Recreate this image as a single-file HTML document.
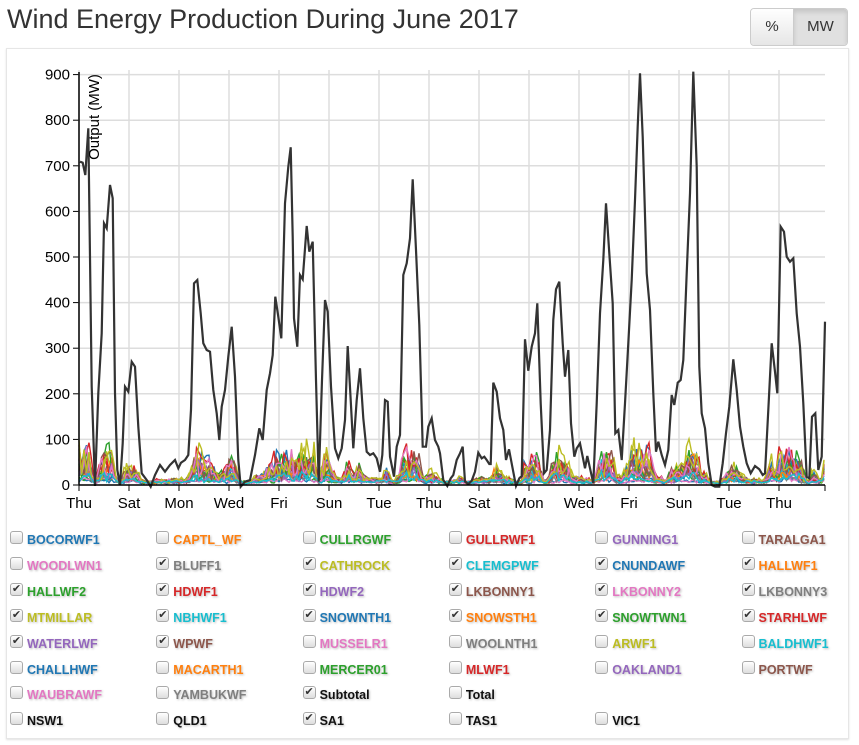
<!DOCTYPE html>
<html><head><meta charset="utf-8"><style>
body{margin:0;width:859px;height:745px;background:#fff;font-family:"Liberation Sans",Arial,sans-serif;position:relative;overflow:hidden}
h1{position:absolute;left:7px;top:4px;margin:0;font-size:27px;font-weight:normal;color:#333}
.btns{position:absolute;left:750px;top:8px;height:36px;border:1px solid #ccc;border-radius:4px;display:flex;overflow:hidden}
.btns div{font-size:15px;color:#333;line-height:36px;text-align:center}
.card{position:absolute;left:6px;top:48px;width:841px;height:689px;border:1px solid #e6e6e6;box-shadow:0 1px 2px rgba(0,0,0,.12)}
.lg{position:absolute;font-size:12.5px;font-weight:bold;text-shadow:1px 1px 2px rgba(0,0,0,.25);white-space:nowrap}
.cb{position:absolute;width:11px;height:11px;border:1px solid #aaa;border-radius:3px;background:linear-gradient(#fff,#ddd);font-size:11px;line-height:11px;text-align:center;color:#333}
</style></head><body>
<h1>Wind Energy Production During June 2017</h1>
<div class="btns"><div style="width:42px;background:linear-gradient(#fff,#e6e6e6);border-right:1px solid #ccc">%</div><div style="width:53px;background:#e0e0e0;box-shadow:inset 0 3px 5px rgba(0,0,0,.12)">MW</div></div>
<div class="card"></div>
<svg id="s" width="859" height="745" style="position:absolute;left:0;top:0" font-family="Liberation Sans, Arial, sans-serif"></svg>
<div id="leg"></div>
<script>
var s=document.getElementById('s'),h='';
var X0=79,X1=825,Y0=485,k=0.456;
for(var v=0;v<=900;v+=100){var y=Y0-v*k;h+='<line x1="'+X0+'" x2="'+X1+'" y1="'+y+'" y2="'+y+'" stroke="#ddd" stroke-width="1.5"/>';
h+='<line x1="73" x2="'+X0+'" y1="'+y+'" y2="'+y+'" stroke="#000"/>';
h+='<text x="70" y="'+(y+5)+'" text-anchor="end" font-size="15">'+v+'</text>';}
var days=['Thu','Sat','Mon','Wed','Fri','Sun','Tue','Thu','Sat','Mon','Wed','Fri','Sun','Tue','Thu'];
for(var i=0;i<15;i++){var x=X0+i*50;h+='<line x1="'+x+'" x2="'+x+'" y1="70" y2="'+Y0+'" stroke="#ddd" stroke-width="1.5"/>';
h+='<line x1="'+x+'" x2="'+x+'" y1="'+Y0+'" y2="'+(Y0+6)+'" stroke="#000"/>';
h+='<text x="'+x+'" y="508" text-anchor="middle" font-size="15">'+days[i]+'</text>';}
h+='<line x1="825" x2="825" y1="'+Y0+'" y2="491" stroke="#000"/>';
var a=[30,305,38,308,46,345,55,205,65,980,75,1278,85,1000,95,820,102,490,110,505,120,375,128,415,135,1000,142,1230,150,1275,158,1150,165,980,175,995,185,905,195,920,205,1100,215,1240,230,1260,242,1280,255,1245,270,1215,285,1235,300,1215,315,1200,325,1225,333,1208,345,1200,355,1185,363,1050,372,670,382,660,392,760,400,850,410,870,420,875,430,990,440,1060,448,1140,455,1040,465,990,475,890,485,800,495,950,505,1200,512,1280,525,1265,540,1260,555,1185,568,1105,578,1140,590,990,600,940,608,885,616,710,625,770,634,835,645,430,655,320,662,262,668,530,672,775,682,860,690,645,698,658,710,498,718,575,728,545,738,960,746,1265,756,960,765,720,773,755,783,980,795,1165,805,1195,815,1165,825,1080,833,858,842,1020,850,1165,860,1020,870,925,880,1075,890,1175,900,1185,910,1180,920,1195,930,1235,937,1185,945,1020,953,1025,960,1190,972,1250,980,1160,990,1125,1000,645,1010,610,1020,535,1028,358,1038,570,1048,795,1058,1160,1068,1160,1075,1100,1085,1075,1095,1140,1105,1160];
var b=[0,1180,10,1260,22,1278,32,1255,40,1245,50,1200,60,1180,68,1160,75,1265,85,1272,95,1262,105,1235,115,1178,125,1195,133,1190,140,1200,148,1212,152,1212,160,968,170,995,180,1075,190,1110,198,1200,207,1168,217,1220,228,1278,238,1255,245,1248,255,838,265,932,275,860,285,820,292,730,302,1030,312,1240,320,1230,330,1110,340,780,348,688,358,665,368,850,375,950,385,870,393,1090,403,1190,410,1165,420,1150,428,1190,435,1225,442,1188,450,1225,460,1270,470,1030,480,760,490,600,498,430,508,580,518,730,526,1120,535,1110,545,1200,555,1030,565,850,575,660,585,420,593,200,600,40,608,230,620,640,630,750,640,1000,648,1175,655,1145,665,1185,675,1215,685,1170,695,1005,703,1035,713,968,722,960,730,900,740,640,750,400,760,35,770,320,778,920,785,1060,795,1105,805,1210,815,1275,825,1280,838,1280,848,1210,858,1120,868,1040,880,898,890,990,900,1100,910,1160,920,1210,932,1240,945,1218,958,1228,968,1245,975,1240,985,1050,995,850,1005,935,1012,1000,1022,500,1032,515,1040,590,1050,605,1060,595,1070,760,1080,860,1090,1030,1100,1250,1108,1255,1116,1070,1126,1060,1135,1230,1145,1190,1155,785];
var P=[];for(i=0;i<a.length;i+=2)P.push([70+a[i]/3,60+a[i+1]/3]);for(i=0;i<b.length;i+=2)P.push([440+b[i]/3,60+b[i+1]/3]);
function val(x){for(var j=1;j<P.length;j++)if(P[j][0]>=x){var p=P[j-1],q=P[j],t=(x-p[0])/((q[0]-p[0])||1);return Y0-(p[1]+t*(q[1]-p[1]));}return 0;}
var seed=11;function r(){seed=(seed*16807)%2147483647;return seed/2147483647;}
var cols=['#1f77b4','#ff7f0e','#2ca02c','#d62728','#9467bd','#8c564b','#e377c2','#7f7f7f','#bcbd22','#17becf','#1f77b4','#ff7f0e','#2ca02c','#d62728','#9467bd','#8c564b','#e377c2','#bcbd22','#17becf'];
cols.forEach(function(c,ci){var sc=0.01+r()*0.09,pts=[],off=(r()*6-3);for(var x=X0;x<=X1;x+=2.5){var v=Math.max(0,Math.min(50,Math.min(val(x),200)*sc*(0.3+1.4*r())*(0.6+0.8*Math.abs(Math.sin(x/20+ci)))+r()*3));pts.push(x.toFixed(1)+','+(Y0-1-v).toFixed(1));}
h+='<polyline points="'+pts.join(' ')+'" fill="none" stroke="'+c+'" stroke-width="1.4"/>';});
h+='<polyline points="'+P.map(function(p){return p[0].toFixed(1)+','+p[1].toFixed(1)}).join(' ')+'" fill="none" stroke="#333" stroke-width="2.2"/>';
h+='<line x1="'+X0+'" x2="'+X0+'" y1="72" y2="'+Y0+'" stroke="#000" stroke-width="1.5"/><line x1="'+X0+'" x2="'+X1+'" y1="'+Y0+'" y2="'+Y0+'" stroke="#000" stroke-width="1.5"/>';
h+='<text transform="translate(99,117) rotate(-90)" text-anchor="middle" font-size="15">Output (MW)</text>';
s.innerHTML=h;
var L=[['BOCORWF1',0,0],['CAPTL_WF',1,0],['CULLRGWF',2,0],['GULLRWF1',3,0],['GUNNING1',4,0],['TARALGA1',5,0],
['WOODLWN1',6,0],['BLUFF1',7,1],['CATHROCK',8,1],['CLEMGPWF',9,1],['CNUNDAWF',0,1],['HALLWF1',1,1],
['HALLWF2',2,1],['HDWF1',3,1],['HDWF2',4,1],['LKBONNY1',5,1],['LKBONNY2',6,1],['LKBONNY3',7,1],
['MTMILLAR',8,1],['NBHWF1',9,1],['SNOWNTH1',0,1],['SNOWSTH1',1,1],['SNOWTWN1',2,1],['STARHLWF',3,1],
['WATERLWF',4,1],['WPWF',5,1],['MUSSELR1',6,0],['WOOLNTH1',7,0],['ARWF1',8,0],['BALDHWF1',9,0],
['CHALLHWF',0,0],['MACARTH1',1,0],['MERCER01',2,0],['MLWF1',3,0],['OAKLAND1',4,0],['PORTWF',5,0],
['WAUBRAWF',6,0],['YAMBUKWF',7,0],['Subtotal',10,1],['Total',10,0],null,null,
['NSW1',10,0],['QLD1',10,0],['SA1',10,1],['TAS1',10,0],['VIC1',10,0]];
var pc=['#1f77b4','#ff7f0e','#2ca02c','#d62728','#9467bd','#8c564b','#e377c2','#7f7f7f','#bcbd22','#17becf','#111'];
var g='';L.forEach(function(e,i){if(!e)return;var c=i%6,rw=Math.floor(i/6),x=10+c*146.3,y=533+rw*25.9;
g+='<div class="cb" style="left:'+x+'px;top:'+(y-2)+'px">'+(e[2]?'✔':'')+'</div><div class="lg" style="left:'+(x+17)+'px;top:'+y+'px;color:'+pc[e[1]]+'">'+e[0]+'</div>';});
document.getElementById('leg').innerHTML=g;
</script>
</body></html>
